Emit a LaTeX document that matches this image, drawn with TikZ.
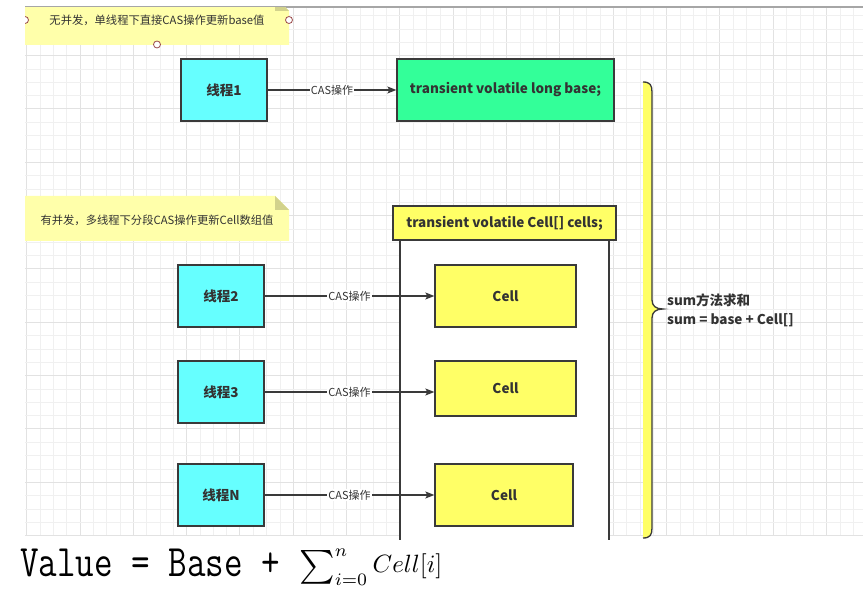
\documentclass[tikz,border=0pt]{standalone}
\usepackage{fontspec}
\usepackage{graphicx}
\setmainfont{Noto Sans CJK SC}
\usetikzlibrary{arrows.meta}
\definecolor{strokec}{HTML}{3A3A3A}
\definecolor{textc}{HTML}{333333}
\definecolor{cyanc}{HTML}{66FFFF}
\definecolor{greenc}{HTML}{33FF99}
\definecolor{yellowc}{HTML}{FFFF66}
\definecolor{notec}{HTML}{FFFFAA}
\definecolor{foldc}{HTML}{D2D28C}
\definecolor{gminc}{HTML}{F0F0F0}
\definecolor{gmajc}{HTML}{E2E2E2}
\definecolor{handlec}{HTML}{9A4A4A}
\begin{document}
\begin{tikzpicture}[x=1pt,y=-1pt,
  gmin/.style={draw=gminc,line width=0.8pt},
  gmaj/.style={draw=gmajc,line width=1pt},
  boxbase/.style={draw=strokec,line width=1.3pt,inner sep=0pt,text=textc,
    font=\bfseries\fontsize{13.5}{15}\selectfont},
  thr/.style={boxbase,fill=cyanc,minimum width=86pt,minimum height=62pt},
  cellbox/.style={boxbase,fill=yellowc,minimum width=141pt,minimum height=62pt},
  lab/.style={fill=white,inner sep=1pt,text=textc,font=\fontsize{11}{12}\selectfont},
  conn/.style={draw=strokec,line width=1.2pt,-{Stealth[length=9pt,width=7pt,inset=2pt]}},
  notetext/.style={text=textc,font=\fontsize{11.3}{12}\selectfont,inner sep=0pt},
  handle/.style={draw=handlec,fill=white,line width=0.8pt}
]
\useasboundingbox (0,0) rectangle (863,593);
\fill[white] (0,0) rectangle (863,593);
% grid
\foreach \k in {0,...,62}{
  \pgfmathsetmacro\xx{26.67+13.333*\k}
  \pgfmathtruncatemacro\mm{mod(\k,4)}
  \ifnum\mm=0 \draw[gmaj] (\xx,7) -- (\xx,536); \else \draw[gmin] (\xx,7) -- (\xx,536); \fi
}
\foreach \j in {0,...,39}{
  \pgfmathsetmacro\yy{15.67+13.333*\j}
  \pgfmathtruncatemacro\mm{mod(\j,4)}
  \ifnum\mm=3 \draw[gmaj] (25,\yy) -- (863,\yy); \else \draw[gmin] (25,\yy) -- (863,\yy); \fi
}
\draw[draw=gray!70,line width=1.5pt] (25,7) -- (863,7);
% note 1
\begin{scope}
  \clip (25,7.7) rectangle (863,593);
  \fill[notec] (25,-3) -- (275,-3) -- (289,11) -- (289,45) -- (25,45) -- cycle;
  \fill[foldc] (275,-3) -- (289,11) -- (275,11) -- cycle;
  \draw[handle] (25,20) circle (3.5);
\end{scope}
\node[notetext] (note1) at (157,20) {无并发，单线程下直接CAS操作更新base值};
\draw[handle] (289,20) circle (3.5);
\draw[handle] (157,44.5) circle (3.5);
% note 2
\fill[notec] (25,196) -- (275,196) -- (289,210) -- (289,241) -- (25,241) -- cycle;
\fill[foldc] (275,196) -- (289,210) -- (275,210) -- cycle;
\node[notetext] (note2) at (157,220) {有并发，多线程下分段CAS操作更新Cell数组值};
% container
\fill[white] (400,240) rectangle (609,540);
\draw[strokec,line width=1.3pt] (400,240) -- (400,540);
\draw[strokec,line width=1.3pt] (609,240) -- (609,540);
\node[boxbase,fill=yellowc,minimum width=223pt,minimum height=34pt] (hdr) at (504.5,223) {transient volatile Cell[] cells;};
% nodes
\node[thr] (t1) at (224,90) {线程1};
\node[boxbase,fill=greenc,minimum width=217pt,minimum height=62pt] (base) at (505.5,90) {transient volatile long base;};
\node[thr] (t2) at (221,296) {线程2};
\node[thr] (t3) at (221,392) {线程3};
\node[thr] (tn) at (221,495) {线程N};
\node[cellbox] (c1) at (505.5,296) {Cell};
\node[cellbox,minimum height=55pt] (c2) at (505.5,388.5) {Cell};
\node[cellbox,minimum width=138pt] (c3) at (504,495) {Cell};
% connectors
\draw[conn] (t1) -- node[lab] {CAS操作} (base);
\draw[conn] (t2) -- node[lab] {CAS操作} (c1);
\draw[conn] (t3.east) -- node[lab] {CAS操作} (t3.east -| c2.west);
\draw[conn] (tn) -- node[lab] {CAS操作} (c3);
% brace
\fill[yellowc] (643,82) .. controls (650,82) and (652,85) .. (652,92) -- (652,300) .. controls (652,306) and (656,309) .. (663,309) .. controls (656,309) and (652,312) .. (652,318) -- (652,528) .. controls (652,535) and (650,538) .. (643,538) -- cycle;
\draw[strokec,line width=1.3pt] (643,82) .. controls (650,82) and (652,85) .. (652,92) -- (652,300) .. controls (652,306) and (656,309) .. (663,309) .. controls (656,309) and (652,312) .. (652,318) -- (652,528) .. controls (652,535) and (650,538) .. (643,538);
\node[anchor=west,align=left,text=textc,inner sep=0pt,font=\bfseries\fontsize{13.5}{19}\selectfont] (sumtxt) at (667,310) {sum方法求和\\sum = base + Cell[]};
% formula
\node[anchor=base west,inner sep=0pt] (f1) at (20,577) {\scalebox{1}[1.25]{\fontsize{36}{36}\ttfamily Value = Base +}};
\node[anchor=base west,inner sep=0pt] (f2) at (299,573) {\scalebox{2.5}{$\mathop{\raisebox{-0.1em}{\scalebox{1.35}{$\textstyle\sum$}}}\nolimits_{i=0}^{n}Cell[i]$}};
\end{tikzpicture}
\end{document}
